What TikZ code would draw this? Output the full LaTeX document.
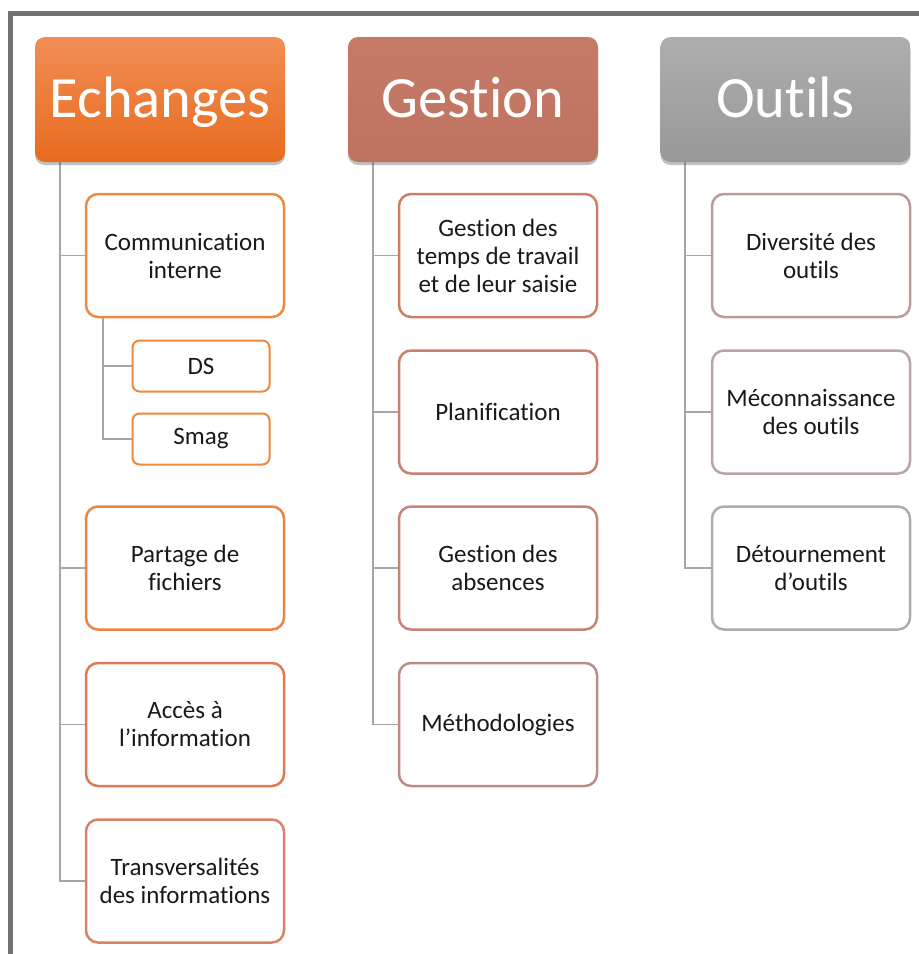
\documentclass[tikz,border=0pt]{standalone}
\usepackage{fontspec}
\setmainfont{Carlito}[Ligatures=NoCommon]
\usetikzlibrary{shadows,backgrounds}
\definecolor{frameC}{HTML}{757070}
\definecolor{connC}{HTML}{A6A6A6}
\definecolor{oTop}{HTML}{F18E55}
\definecolor{oBot}{HTML}{E86B1E}
\definecolor{gTop}{HTML}{C57B68}
\definecolor{gBot}{HTML}{BE735F}
\definecolor{tTop}{HTML}{AEAEAE}
\definecolor{tBot}{HTML}{989898}
\definecolor{cA}{HTML}{F0883E}
\definecolor{cB}{HTML}{EC8243}
\definecolor{cC}{HTML}{DF7A56}
\definecolor{cD}{HTML}{D9826A}
\definecolor{cE}{HTML}{CE7D67}
\definecolor{cF}{HTML}{C98070}
\definecolor{cG}{HTML}{C48578}
\definecolor{cH}{HTML}{BC8D88}
\definecolor{cI}{HTML}{BC9C9A}
\definecolor{cJ}{HTML}{B7A6A5}
\definecolor{cK}{HTML}{ADADAD}
\tikzset{
  headbox/.style={rounded corners=10pt, minimum width=250pt, minimum height=125pt,
    text=white, font=\fontsize{58.5}{68}\selectfont, text height=37pt, text depth=2pt,
    drop shadow={shadow xshift=0pt, shadow yshift=-3pt, opacity=0.35, fill=black!70}},
  childbox/.style={draw=#1, line width=2.5pt, rounded corners=12pt, fill=white,
    minimum width=198pt, minimum height=123pt, align=center, text=black!90,
    font=\fontsize{25}{28}\selectfont},
  subbox/.style={draw=#1, line width=2pt, rounded corners=7pt, fill=white,
    minimum width=137pt, minimum height=51pt, align=center, text=black!90,
    font=\fontsize{25}{28}\selectfont},
  conn/.style={draw=connC, line width=1.5pt},
  framel/.style={draw=frameC, line width=5pt}
}
\begin{document}
\begin{tikzpicture}[x=1pt,y=-1pt]
\useasboundingbox (0,0) rectangle (919,954);
% headers
\node[headbox, top color=oTop, bottom color=oBot] (eh) at (160,99.5) {Echanges};
\node[headbox, top color=gTop, bottom color=gBot] (gh) at (473,99.5) {Gestion};
\node[headbox, top color=tTop, bottom color=tBot] (th) at (785.5,99.5) {Outils};
% Echanges children
\node[childbox=cA] (e1) at (185,255.5) {Communication\\interne};
\node[subbox=cA] (s1) at (201,366) {DS};
\node[subbox=cA] (s2) at (201,439) {Smag};
\node[childbox=cB] (e2) at (185,568) {Partage de\\fichiers};
\node[childbox=cC] (e3) at (185,724.5) {Accès à\\l’information};
\node[childbox=cD] (e4) at (185,881) {Transversalités\\des informations};
% Gestion children
\node[childbox=cE] (g1) at (498,255.5) {Gestion des\\temps de travail\\et de leur saisie};
\node[childbox=cF] (g2) at (498,412) {Planification};
\node[childbox=cG] (g3) at (498,568) {Gestion des\\absences};
\node[childbox=cH] (g4) at (498,724.5) {Méthodologies};
% Outils children
\node[childbox=cI] (t1) at (811,255.5) {Diversité des\\outils};
\node[childbox=cJ] (t2) at (811,412) {Méconnaissance\\des outils};
\node[childbox=cK] (t3) at (811,568) {Détournement\\d’outils};
\coordinate (eTop) at (60,160);
\coordinate (gTopC) at (373,160);
\coordinate (tTopC) at (685,160);
\coordinate (sTop) at (103,317);
\begin{scope}[on background layer]
  \draw[framel] (10.5,954) -- (10.5,13.5) -- (919,13.5);
  \foreach \c in {e1,e2,e3,e4} \draw[conn] (eTop) |- (\c.west);
  \foreach \c in {s1,s2} \draw[conn] (sTop) |- (\c.west);
  \foreach \c in {g1,g2,g3,g4} \draw[conn] (gTopC) |- (\c.west);
  \foreach \c in {t1,t2,t3} \draw[conn] (tTopC) |- (\c.west);
\end{scope}
\end{tikzpicture}
\end{document}
